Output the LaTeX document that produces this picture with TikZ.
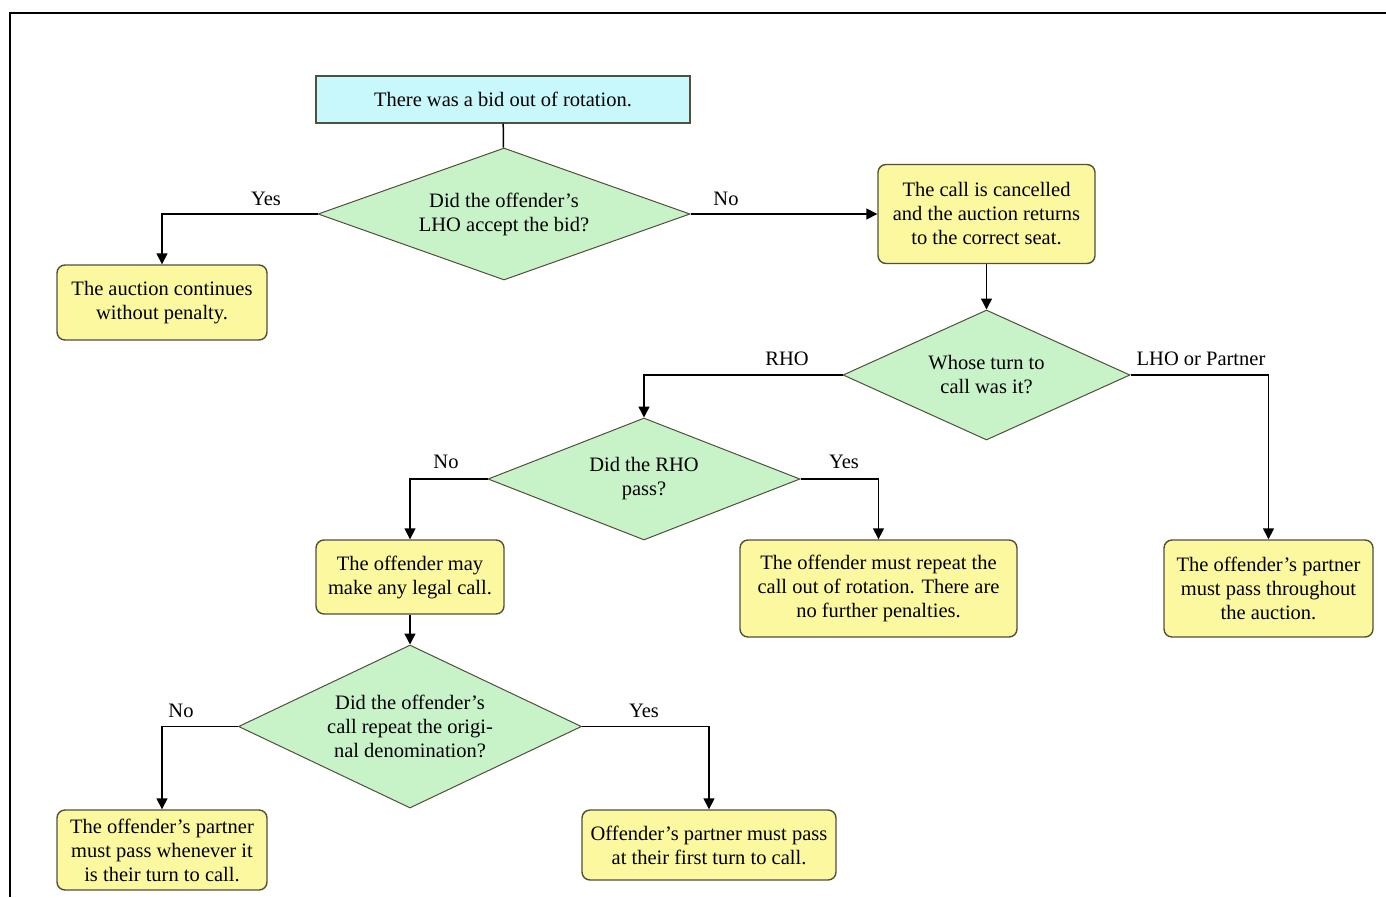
\documentclass[tikz,border=0pt]{standalone}
\usepackage{fontspec}
\setmainfont{Liberation Serif}
\usetikzlibrary{shapes.geometric,arrows.meta}

\definecolor{boxyellow}{RGB}{252,248,160}
\definecolor{diagreen}{RGB}{200,242,200}
\definecolor{startcyan}{RGB}{200,248,252}
\definecolor{edgegray}{RGB}{80,80,60}

\begin{document}
\begin{tikzpicture}[x=1pt,y=-1pt,
    every node/.style={font=\fontsize{20.5}{24}\selectfont},
    startbox/.style={draw=edgegray,line width=1.2pt,fill=startcyan,minimum width=374pt,minimum height=47pt,inner sep=0pt},
    answer/.style={draw=edgegray,line width=1.4pt,fill=boxyellow,rounded corners=8pt,align=center,inner sep=0pt},
    question/.style={draw=edgegray,line width=1pt,fill=diagreen,diamond,align=center,inner sep=0pt},
    link/.style={-{Triangle[length=11pt,width=11pt]},line width=1.5pt},
    tag/.style={inner sep=0pt}]
    \useasboundingbox (0,0) rectangle (1386,897);

    % frame
    \draw[line width=2pt] (1386,13) -- (10,13) -- (10,897);

    \node (start) at (503,99.5)  [startbox] {There was a bid out of rotation.};
    \node (q1) at (504,214)      [question,shape aspect=2.8,minimum width=372pt,minimum height=132pt] {Did the offender's\\LHO accept the bid?};
    \node (a1) at (162,302.5)    [answer,minimum width=210pt,minimum height=75pt] {The auction continues\\without penalty.};
    \node (a2) at (986.5,214)    [answer,minimum width=217pt,minimum height=99pt] {The call is cancelled\\and the auction returns\\to the correct seat.};
    \node (q2) at (986.5,375)    [question,shape aspect=2.2,minimum width=287pt,minimum height=130pt] {Whose turn to\\call was it?};
    \node (q3) at (644,479)      [question,shape aspect=2.5,minimum width=312pt,minimum height=122pt] {Did the RHO\\pass?};
    \node (a3) at (410,577)      [answer,minimum width=188pt,minimum height=74pt] {The offender may\\make any legal call.};
    \node (a4) at (878.5,588.5)  [answer,minimum width=277pt,minimum height=97pt] {The offender must repeat the\\call out of rotation. There are\\no further penalties.};
    \node (a5) at (1268.5,588.5) [answer,minimum width=209pt,minimum height=97pt] {The offender's partner\\must pass throughout\\the auction.};
    \node (q4) at (410,726.5)    [question,shape aspect=2.1,minimum width=343pt,minimum height=163pt] {Did the offender's\\call repeat the origi-\\nal denomination?};
    \node (a6) at (162,850)      [answer,minimum width=210pt,minimum height=80pt] {The offender's partner\\must pass whenever it\\is their turn to call.};
    \node (a7) at (709,845)      [answer,minimum width=254pt,minimum height=70pt] {Offender's partner must pass\\at their first turn to call.};

    \node (yes1) at (266,199)  [tag] {Yes};
    \node (no1)  at (726,199)  [tag] {No};
    \node (rho)  at (787,359)  [tag] {RHO};
    \node (lho)  at (1201,359) [tag] {LHO or Partner};
    \node (no2)  at (446,462)  [tag] {No};
    \node (yes2) at (844,462)  [tag] {Yes};
    \node (no3)  at (181,711)  [tag] {No};
    \node (yes3) at (644,711)  [tag] {Yes};

    \draw[line width=1.5pt] (start) -- (q1);
    \draw[link] (q1.west) -| (a1.north);
    \draw[link] (q1.east) -- (a2.west);
    \draw[link] (a2) -- (q2);
    \draw[link] (q2.west) -| (q3.north);
    \draw[link] (q2.east) -| (a5.north);
    \draw[link] (q3.west) -| (a3.north);
    \draw[link] (q3.east) -| (a4.north);
    \draw[link] (a3) -- (q4);
    \draw[link] (q4.west) -| (a6.north);
    \draw[link] (q4.east) -| (a7.north);

\end{tikzpicture}
\end{document}
